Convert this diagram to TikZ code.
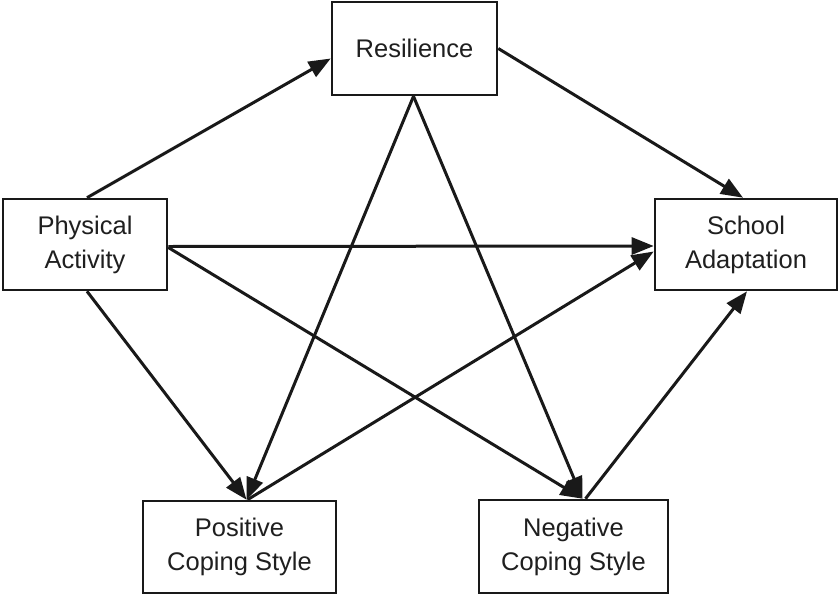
\documentclass[tikz,border=0pt]{standalone}
\usepackage{fontspec}
\setmainfont{Liberation Sans}
\usetikzlibrary{arrows.meta}
\begin{document}
\begin{tikzpicture}[x=1pt,y=-1pt,
  box/.style={draw=black!90, line width=2.6pt, fill=white, inner sep=0pt,
    align=center, text=black!88,
    font=\fontsize{25.5}{34}\selectfont},
  arr/.style={line width=3pt, draw=black!90,
    -{Triangle[length=22pt,width=17pt]}}]
\useasboundingbox (0,0) rectangle (839,595);
\node[box, minimum width=165pt, minimum height=93pt] (res) at (414.5,48.5) {Resilience};
\node[box, minimum width=164pt, minimum height=91pt] (pa) at (85,244.5) {Physical\\Activity};
\node[box, minimum width=182pt, minimum height=91pt] (sa) at (746,244.5) {School\\Adaptation};
\node[box, minimum width=193pt, minimum height=92pt] (pos) at (239.5,547) {Positive\\Coping Style};
\node[box, minimum width=189pt, minimum height=93pt] (neg) at (573.5,546.5) {Negative\\Coping Style};
\draw[arr] ([xshift=2pt]pa.north) -- ([yshift=-10pt]res.west);
\draw[arr] (res.east) -- ([xshift=-3pt]sa.north);
\draw[arr] ([yshift=-2pt]pa.east) -- ([yshift=-1.5pt]sa.west);
\draw[arr] ([yshift=-3pt]pa.east) -- ([xshift=9pt]neg.north);
\draw[arr] ([xshift=2pt]pa.south) -- ([xshift=7pt]pos.north);
\draw[arr] ([xshift=-1pt]res.south) -- ([xshift=7pt]pos.north);
\draw[arr] ([xshift=-1pt]res.south) -- ([xshift=9pt]neg.north);
\draw[arr] ([xshift=8pt]pos.north) -- ([yshift=-7pt]sa.west);
\draw[arr] ([xshift=12pt]neg.north) -- ([xshift=1pt]sa.south);
\end{tikzpicture}
\end{document}
